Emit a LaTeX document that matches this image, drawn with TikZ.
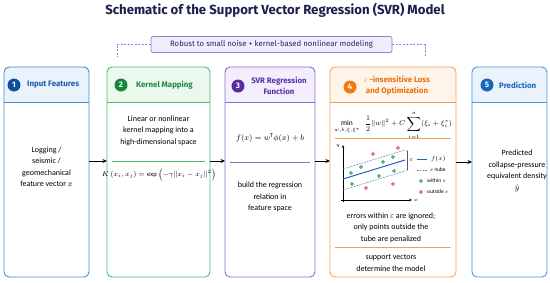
\documentclass[tikz,border=0pt]{standalone}
\usepackage{fontspec}
\setmainfont{Carlito}
\newfontfamily\titlefont{Fira Sans}
\usetikzlibrary{arrows.meta}
\definecolor{navy}{HTML}{1A1F4E}
\definecolor{bandraw}{HTML}{9A7AD8}
\definecolor{banfill}{HTML}{F2EDFB}
\definecolor{bantext}{HTML}{2A2266}
\definecolor{bAd}{HTML}{4A86D8}\definecolor{bAf}{HTML}{EAF2FB}\definecolor{bAc}{HTML}{0D4FA0}\definecolor{bAt}{HTML}{1C5CB0}
\definecolor{bBd}{HTML}{4CBB6C}\definecolor{bBf}{HTML}{EAF8EE}\definecolor{bBc}{HTML}{16863A}\definecolor{bBt}{HTML}{1E8A3E}
\definecolor{bCd}{HTML}{8C6CD0}\definecolor{bCf}{HTML}{F3EEFB}\definecolor{bCc}{HTML}{5A2CA0}\definecolor{bCt}{HTML}{5A30A8}
\definecolor{bDd}{HTML}{F5A050}\definecolor{bDf}{HTML}{FFF4EA}\definecolor{bDc}{HTML}{F07A14}\definecolor{bDt}{HTML}{E8720C}
\definecolor{bEd}{HTML}{4A96E0}\definecolor{bEf}{HTML}{EAF3FC}\definecolor{bEc}{HTML}{1466B8}\definecolor{bEt}{HTML}{1666BC}
\definecolor{plotblue}{HTML}{2262C4}
\definecolor{dotgreen}{HTML}{2A9A4A}
\definecolor{dotred}{HTML}{E03040}
\newcommand\mycard[6]{%
  \begin{scope}
    \clip[rounded corners=5pt] (#2,67) rectangle (#3,277);
    \fill[#5] (#2,67) rectangle (#3,102);
  \end{scope}
  \draw[#4, line width=0.5pt] (#2,102) -- (#3,102);
  \node[card, draw=#4, minimum width=#3-#2] (#1) at (#2,67) {};
}
\tikzset{
  card/.style={rounded corners=5pt, line width=0.9pt, minimum height=210pt, anchor=north west, inner sep=0pt, outer sep=0pt},
  numdot/.style={circle, inner sep=0pt, minimum size=13pt, text=white, font=\titlefont\bfseries\fontsize{8}{8}\selectfont},
  hdr/.style={font=\titlefont\bfseries\fontsize{7.9}{11}\selectfont, align=center, inner sep=0pt},
  body/.style={font=\fontsize{8}{11.5}\selectfont, align=center, inner sep=0pt},
  flow/.style={-{Stealth[length=4.5pt,width=4pt]}, line width=0.9pt, black},
  wdot/.style={circle, fill=dotgreen!55, draw=dotgreen, line width=0.5pt, minimum size=3.2pt, inner sep=0pt},
  odot/.style={circle, fill=dotred!40, draw=dotred, line width=0.5pt, minimum size=3.2pt, inner sep=0pt},
  legend/.style={font=\fontsize{5.5}{6}\selectfont, anchor=west, inner sep=0pt}
}
\begin{document}
\begin{tikzpicture}[x=1pt,y=-1pt]
\useasboundingbox (0,0) rectangle (550,282);
\fill[white] (0,0) rectangle (550,282);

\node[font=\titlefont\bfseries\fontsize{13.2}{15}\selectfont, text=navy] (title) at (275,10) {Schematic of the Support Vector Regression (SVR) Model};

\node[draw=bandraw, fill=banfill, rounded corners=2pt, line width=0.7pt, minimum width=241pt, minimum height=16pt, inner sep=0pt, font=\titlefont\fontsize{7.8}{9}\selectfont, text=bantext] (banner) at (271.5,44.5) {Robust to small noise + kernel-based nonlinear modeling};
\coordinate (bl) at (117,57);
\coordinate (br) at (425,57);
\draw[bandraw, line width=0.7pt, dash pattern=on 2pt off 1.5pt] (banner.west) -| (bl);
\draw[bandraw, line width=0.7pt, dash pattern=on 2pt off 1.5pt] (banner.east) -| (br);

% cards
\mycard{b1}{4}{89}{bAd}{bAf}{bAc}
\mycard{b2}{107}{210}{bBd}{bBf}{bBc}
\mycard{b3}{225}{315}{bCd}{bCf}{bCc}
\mycard{b4}{330}{456}{bDd}{bDf}{bDc}
\mycard{b5}{472}{547}{bEd}{bEf}{bEc}

% headers
\node[numdot, fill=bAc] (n1) at (14,85) {1};
\node[hdr, text=bAt, anchor=west] (h1) at (27,85) {Input Features};
\node[numdot, fill=bBc] (n2) at (121,85) {2};
\node[hdr, text=bBt, anchor=west] (h2) at (136,85) {Kernel Mapping};
\node[numdot, fill=bCc] (n3) at (238,86) {3};
\node[hdr, text=bCt] (h3) at (279,86) {SVR Regression\\Function};
\node[numdot, fill=bDc] (n4) at (350,87) {4};
\node[hdr, text=bDt] (h4) at (397,86) {$\varepsilon$ -insensitive Loss\\and Optimization};
\node[numdot, fill=bEc] (n5) at (487,85) {5};
\node[hdr, text=bEt, anchor=west] (h5) at (499,85) {Prediction};

% box 1
\node[body] (t1) at (46.5,166.5) {Logging /\\seismic /\\geomechanical\\feature vector $x$};

% box 2
\node[body] (t2) at (158.5,130.5) {Linear or nonlinear\\kernel mapping into a\\high-dimensional space};
\draw[bBd, line width=0.7pt] (112,161) -- (205,161);
\node[inner sep=0pt, font=\fontsize{6.6}{8}\selectfont] (k2) at (159,175) {$K\,(x_i,x_j)=\exp\left(-\gamma\|x_i-x_j\|^2\right)$};

% box 3
\node[inner sep=0pt, font=\fontsize{8.5}{10}\selectfont] (f3) at (270,138) {$f(x)=w^{\mathrm{T}}\phi(x)+b$};
\draw[bCd, line width=0.7pt] (230,162) -- (310,162);
\node[body] (t3) at (270,197) {build the regression\\relation in\\feature space};

% box 4
\node[inner sep=0pt, font=\fontsize{7.5}{9}\selectfont] (m4) at (393,125) {$\displaystyle\min_{w,b,\xi,\xi^*}\ \ \frac{1}{2}\|w\|^2+C\sum_{i=1}^{n}(\xi_i+\xi_i^*)$};
\draw[bDd, line width=0.7pt] (335,138) -- (451,138);

% plot
\draw[-{Stealth[length=3pt,width=2.5pt]}, line width=0.6pt] (343,202) -- (343,145);
\draw[-{Stealth[length=3pt,width=2.5pt]}, line width=0.6pt] (341,200) -- (412,200);
\node[font=\fontsize{5.5}{6}\selectfont\itshape, inner sep=0pt] (ylab) at (338,146) {$y$};
\node[font=\fontsize{5.5}{6}\selectfont, inner sep=0pt] (xlab) at (416,200) {$x$};
\draw[plotblue, line width=1pt] (343,179) -- (405,160);
\draw[plotblue!80, line width=0.6pt, dash pattern=on 1.6pt off 1.2pt] (343,169) -- (405,150);
\draw[plotblue!80, line width=0.6pt, dash pattern=on 1.6pt off 1.2pt] (343,190) -- (405,171);
\draw[line width=0.4pt, gray!70!black, {Stealth[length=1.5pt]}-{Stealth[length=1.5pt]}] (407,150) -- (407,171);
\node[font=\fontsize{6.5}{7}\selectfont, inner sep=0pt] (eps) at (411.5,160.5) {$\varepsilon$};
\node[wdot] (p1) at (351,173) {};
\node[wdot] (p2) at (361,167) {};
\node[wdot] (p3) at (383,162) {};
\node[wdot] (p4) at (393,157) {};
\node[wdot] (p5) at (394,171) {};
\node[wdot] (p6) at (379,176) {};
\node[wdot] (p7) at (352,184) {};
\node[odot] (q1) at (373,154) {};
\node[odot] (q2) at (398,148) {};
\node[odot] (q3) at (366,188) {};
\node[odot] (q4) at (393,184) {};
% legend
\coordinate (la) at (417,159); \coordinate (lb) at (427,159);
\draw[plotblue, line width=1pt] (la) -- (lb);
\node[legend, font=\fontsize{6.5}{7}\selectfont] (lg1) at (431,159) {$f(x)$};
\coordinate (lc) at (417,170); \coordinate (ld) at (427,170);
\draw[plotblue!80, line width=0.6pt, dash pattern=on 1.6pt off 1.2pt] (lc) -- (ld);
\node[legend] (lg2) at (430,170) {$\varepsilon$-tube};
\node[wdot] (lg3d) at (421,181) {};
\node[legend] (lg3) at (427,181) {within $\varepsilon$};
\node[odot] (lg4d) at (421,192) {};
\node[legend] (lg4) at (427,192) {outside $\varepsilon$};

\node[body] (t4a) at (391,227.5) {errors within $\varepsilon$ are ignored;\\only points outside the\\tube are penalized};
\draw[bDd, line width=0.7pt] (335,247) -- (451,247);
\node[body] (t4b) at (391,263) {support vectors\\determine the model};

% box 5
\node[body] (t5) at (517,171) {Predicted\\collapse-pressure\\equivalent density\\$\hat{y}$};

% connectors
\draw[flow] (b1.east |- 0,161) -- (b2.west |- 0,161);
\draw[flow] (b2.east |- 0,161) -- (b3.west |- 0,161);
\draw[flow] (b3.east |- 0,161) -- (b4.west |- 0,161);
\draw[flow] (b4.east |- 0,162) -- (b5.west |- 0,162);
\end{tikzpicture}
\end{document}
